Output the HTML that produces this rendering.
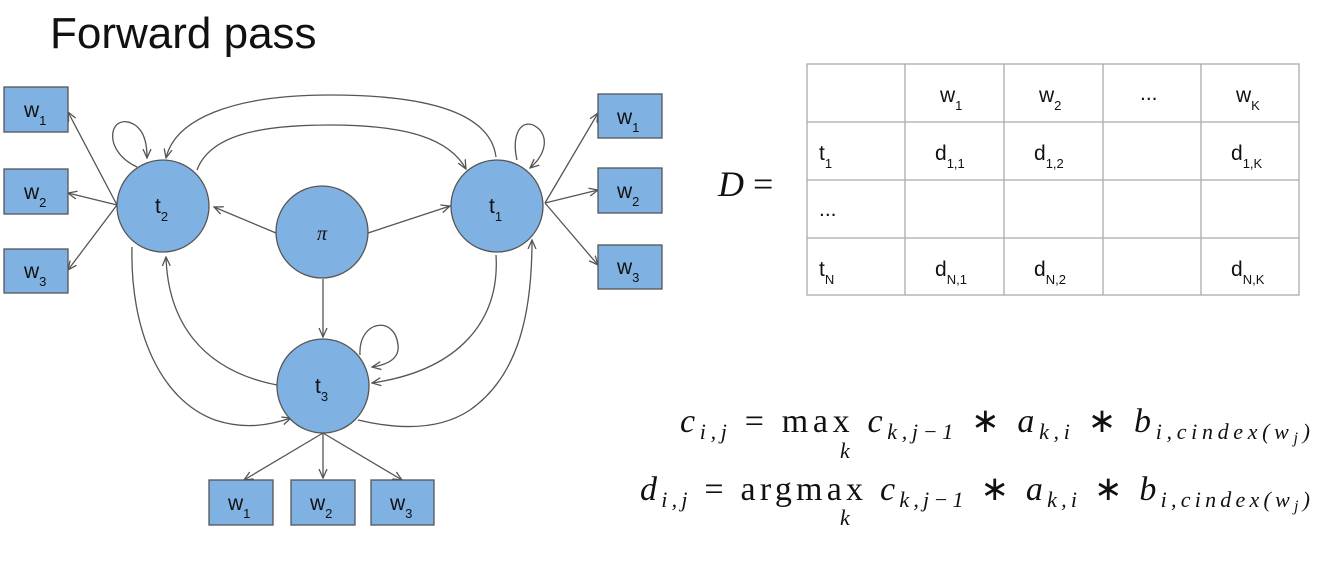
<!DOCTYPE html>
<html><head><style>
body{margin:0;background:#fff;width:1318px;height:567px;overflow:hidden}
svg{display:block}
.n{fill:#7fb2e3;stroke:#555;stroke-width:1.3}
.e{fill:none;stroke:#555;stroke-width:1.3;marker-end:url(#a)}
.l{font-family:"Liberation Sans",sans-serif;font-size:21px;fill:#111}
.s{font-size:13px}
.m{font-family:"Liberation Serif",serif;font-style:italic;fill:#111}
.r{font-style:normal}
</style></head><body>
<svg width="1318" height="567" viewBox="0 0 1318 567">
<defs><marker id="a" markerWidth="10" markerHeight="10" refX="9" refY="5" orient="auto" markerUnits="userSpaceOnUse"><path d="M0,1 L9,5 L0,9" fill="none" stroke="#555" stroke-width="1.3"/></marker></defs>
<text x="50" y="48" font-family="Liberation Sans,sans-serif" font-size="44" fill="#111">Forward pass</text>

<path class="e" d="M117,205 L68,112"/>
<path class="e" d="M117,205 L68,193"/>
<path class="e" d="M117,205 L68,270"/>
<path class="e" d="M545,203 L598,113"/>
<path class="e" d="M545,203 L598,190"/>
<path class="e" d="M545,203 L598,265"/>
<path class="e" d="M137,167 C100,150 110,110 135,125 C145,132 147,145 147,158"/>
<path class="e" d="M517,160 C510,130 525,115 540,130 C548,140 545,155 530,168"/>
<path class="e" d="M360,355 C358,320 395,315 398,345 C400,360 385,365 372,367"/>
<path class="e" d="M496,157 C490,110 420,95 330,95 C230,95 175,120 166,158"/>
<path class="e" d="M197,170 C210,135 260,125 330,125 C410,125 450,140 466,169"/>
<path class="e" d="M276,233 L214,207"/>
<path class="e" d="M368,233 L450,206"/>
<path class="e" d="M323,279 L323,337"/>
<path class="e" d="M277,385 C200,370 168,320 166,257"/>
<path class="e" d="M132,247 C130,330 160,400 215,420 C245,430 270,425 291,418"/>
<path class="e" d="M496,255 C500,320 460,370 372,383"/>
<path class="e" d="M358,420 C400,430 440,430 470,410 C520,375 532,310 532,240"/>
<path class="e" d="M323,433 L244,480"/>
<path class="e" d="M323,433 L323,478"/>
<path class="e" d="M323,433 L402,480"/>

<ellipse class="n" cx="163" cy="206" rx="46" ry="46"/>
<ellipse class="n" cx="497" cy="206" rx="46" ry="46"/>
<ellipse class="n" cx="322" cy="232" rx="46" ry="46"/>
<ellipse class="n" cx="323" cy="386" rx="46" ry="47"/>
<text class="l" x="155" y="213">t<tspan class="s" dy="8">2</tspan></text>
<text class="l" x="489" y="213">t<tspan class="s" dy="8">1</tspan></text>
<text class="m" x="322" y="240" font-size="20" text-anchor="middle">π</text>
<text class="l" x="315" y="393">t<tspan class="s" dy="8">3</tspan></text>

<g class="n">
<rect x="4" y="87" width="64" height="45"/><rect x="4" y="169" width="64" height="45"/><rect x="4" y="249" width="64" height="44"/>
<rect x="598" y="94" width="64" height="44"/><rect x="598" y="168" width="64" height="45"/><rect x="598" y="245" width="64" height="44"/>
<rect x="209" y="480" width="64" height="45"/><rect x="291" y="480" width="64" height="45"/><rect x="371" y="480" width="63" height="45"/>
</g>
<g class="l">
<text x="24" y="117">w<tspan class="s" dy="8">1</tspan></text>
<text x="24" y="199">w<tspan class="s" dy="8">2</tspan></text>
<text x="24" y="278">w<tspan class="s" dy="8">3</tspan></text>
<text x="617" y="124">w<tspan class="s" dy="8">1</tspan></text>
<text x="617" y="198">w<tspan class="s" dy="8">2</tspan></text>
<text x="617" y="274">w<tspan class="s" dy="8">3</tspan></text>
<text x="228" y="510">w<tspan class="s" dy="8">1</tspan></text>
<text x="310" y="510">w<tspan class="s" dy="8">2</tspan></text>
<text x="390" y="510">w<tspan class="s" dy="8">3</tspan></text>
</g>

<g stroke="#aaa" stroke-width="1.3" fill="none">
<rect x="807" y="64" width="492" height="231"/>
<path d="M905,64V295M1004,64V295M1103,64V295M1201,64V295M807,122H1299M807,180H1299M807,238H1299"/>
</g>
<g class="l" font-size="20">
<text x="940" y="102">w<tspan class="s" dy="8">1</tspan></text>
<text x="1039" y="102">w<tspan class="s" dy="8">2</tspan></text>
<text x="1140" y="100">...</text>
<text x="1236" y="102">w<tspan class="s" dy="8">K</tspan></text>
<text x="819" y="160">t<tspan class="s" dy="8">1</tspan></text>
<text x="935" y="160">d<tspan class="s" dy="8">1,1</tspan></text>
<text x="1034" y="160">d<tspan class="s" dy="8">1,2</tspan></text>
<text x="1231" y="160">d<tspan class="s" dy="8">1,K</tspan></text>
<text x="819" y="216">...</text>
<text x="819" y="276">t<tspan class="s" dy="8">N</tspan></text>
<text x="935" y="276">d<tspan class="s" dy="8">N,1</tspan></text>
<text x="1034" y="276">d<tspan class="s" dy="8">N,2</tspan></text>
<text x="1231" y="276">d<tspan class="s" dy="8">N,K</tspan></text>
</g>
<text class="m" x="718" y="196" font-size="36">D <tspan class="r">=</tspan></text>

<text class="m" x="680" y="432" font-size="34" textLength="630" lengthAdjust="spacing">c<tspan font-size="22" dy="7">i,j</tspan><tspan dy="-7" class="r"> = max </tspan>c<tspan font-size="22" dy="7">k,j−1</tspan><tspan dy="-7" class="r"> ∗ </tspan>a<tspan font-size="22" dy="7">k,i</tspan><tspan dy="-7" class="r"> ∗ </tspan>b<tspan font-size="22" dy="7">i,cindex(w<tspan font-size="16" dy="4">j</tspan><tspan dy="-4">)</tspan></tspan></text>
<text class="m" x="840" y="458" font-size="22">k</text>
<text class="m" x="640" y="500" font-size="34" textLength="670" lengthAdjust="spacing">d<tspan font-size="22" dy="7">i,j</tspan><tspan dy="-7" class="r"> = argmax </tspan>c<tspan font-size="22" dy="7">k,j−1</tspan><tspan dy="-7" class="r"> ∗ </tspan>a<tspan font-size="22" dy="7">k,i</tspan><tspan dy="-7" class="r"> ∗ </tspan>b<tspan font-size="22" dy="7">i,cindex(w<tspan font-size="16" dy="4">j</tspan><tspan dy="-4">)</tspan></tspan></text>
<text class="m" x="840" y="525" font-size="22">k</text>
</svg>
</body></html>
